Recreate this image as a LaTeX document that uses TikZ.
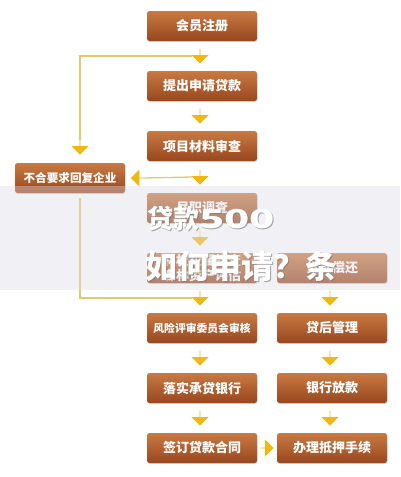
\documentclass[tikz,border=0pt]{standalone}
\usepackage{fontspec}
\newfontfamily\cjk{Noto Sans CJK SC}
\usepackage{tikz}
\usetikzlibrary{shapes.arrows, positioning, calc, shadows}
\definecolor{rusttop}{HTML}{C97A42}
\definecolor{rustbot}{HTML}{98471F}
\definecolor{gold}{HTML}{F2B812}
\definecolor{straw}{HTML}{E2C96E}
\definecolor{haze}{HTML}{DCDCE6}

\begin{document}
\begin{tikzpicture}[x=1pt, y=-1pt,
    box/.style={rectangle, rounded corners=2.5pt, top color=rusttop, bottom color=rustbot, minimum width=110pt, minimum height=30pt, inner sep=0pt, outer sep=0pt, align=center, text=white, font=\cjk\bfseries\fontsize{13}{14.5}\selectfont, drop shadow={opacity=0.3, shadow xshift=0.6pt, shadow yshift=-0.9pt}},
    arrbase/.style={single arrow, fill=gold, minimum height=15pt, minimum width=17pt, single arrow head extend=3.5pt, inner sep=0pt},
    darr/.style={arrbase, rotate=-90},
    larr/.style={arrbase, rotate=180, minimum height=13pt},
    rarr/.style={arrbase, minimum height=13pt},
    fbline/.style={draw=straw, line width=1.3pt},
    wmark/.style={anchor=base west, inner sep=0pt, text=white, font=\cjk\bfseries},
  ]
  \useasboundingbox (0,0) rectangle (400,477);
  % Main column
  \node[box] (reg) at (202,26) {会员注册};
  \node[box, below=30pt of reg] (apply) {提出申请贷款};
  \node[box, below=30pt of apply] (review) {项目材料审查};
  \node[box, below=32pt of review] (survey) {尽职调查};
  \node[box, below=30pt of survey] (assess) {林权权属核查\\森林资产评估};
  \node[box, below=30pt of assess, font=\cjk\bfseries\fontsize{10.8}{12}\selectfont] (risk) {风险评审委员会审核};
  \node[box, below=30pt of risk] (bank) {落实承贷银行};
  \node[box, below=30pt of bank] (contract) {签订贷款合同};

  % Second column
  \node[box, right=20pt of assess] (repay) {贷款偿还};
  \node[box, right=20pt of risk] (after) {贷后管理};
  \node[box, right=20pt of bank] (loan) {银行放款};
  \node[box, right=20pt of contract] (mortgage) {办理抵押手续};

  % Rejection box
  \node[box, font=\cjk\bfseries\fontsize{11.6}{13}\selectfont] (reject) at (70,178) {不合要求回复企业};

  % Down arrows
  \foreach \a/\b in {reg/apply, apply/review, review/survey, survey/assess, assess/risk, risk/bank, bank/contract, repay/after, after/loan, loan/mortgage}
    \node[darr] (arr-\a) at ($(\a.south)!0.5!(\b.north)+(-2,0)$) {};
  \node[rarr] (arr-contract) at ($(contract.east)!0.5!(mortgage.west)$) {};

  % Feedback to the rejection box
  \node[larr] (arr-reject) at ($(reject.east)+(12.5,0)$) {};
  \draw[fbline] (arr-review.south) -- (arr-reject.tail);
  \node[darr, anchor=tip] (arr-fb) at ($(reject.north)+(10,-8)$) {};
  \draw[fbline] (arr-reg.south) -| (arr-fb.tail);
  \coordinate (fbstart) at ($(reject.south)+(10,5)$);
  \draw[fbline] (fbstart) |- (arr-assess.south);

  % Overlay band and its caption
  \fill[haze, fill opacity=0.4] (0,186) rectangle (400,290);
  \node[wmark, text=black!55, opacity=0.6, font=\cjk\bfseries\fontsize{26}{28}\selectfont] (wm1s) at (148,229) {贷款\scalebox{1.6}[1]{500}};
  \node[wmark, font=\cjk\bfseries\fontsize{26}{28}\selectfont] (wm1) at (147,228) {贷款\scalebox{1.6}[1]{500}};
  \node[wmark, text=black!55, opacity=0.6, font=\cjk\bfseries\fontsize{32}{34}\selectfont] (wm2s) at (146,279) {如何申请？条};
  \node[wmark, font=\cjk\bfseries\fontsize{32}{34}\selectfont] (wm2) at (145,278) {如何申请？条};
\end{tikzpicture}
\end{document}
